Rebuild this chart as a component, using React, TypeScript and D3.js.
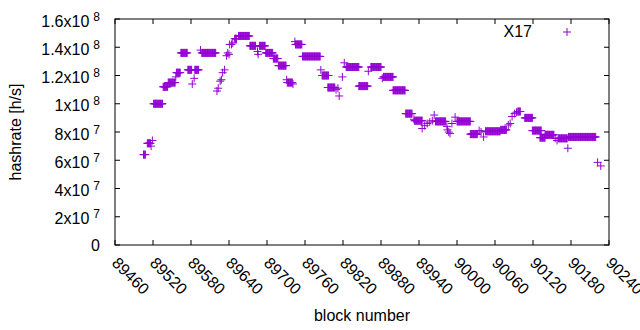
import React from "react";
import * as d3 from "d3";

// [startBlock, endBlock, hashrate in MH/s]
const runs: [number, number, number][] = [
  [89505, 89508, 64], [89511, 89516, 72], [89517, 89517, 70], [89519, 89519, 74],
  [89521, 89535, 100], [89536, 89543, 112], [89544, 89555, 115], [89556, 89556, 119],
  [89557, 89563, 122], [89564, 89574, 136], [89575, 89581, 124], [89582, 89582, 114],
  [89585, 89585, 118], [89586, 89592, 124], [89595, 89595, 138], [89597, 89619, 136],
  [89621, 89621, 109], [89623, 89623, 111], [89626, 89626, 116], [89628, 89628, 117],
  [89630, 89630, 122], [89633, 89633, 124], [89636, 89636, 134], [89638, 89638, 136],
  [89640, 89640, 135], [89641, 89641, 142], [89644, 89644, 142], [89646, 89646, 143],
  [89649, 89652, 146], [89655, 89672, 148], [89673, 89682, 141], [89685, 89685, 137],
  [89686, 89686, 135], [89688, 89697, 141], [89698, 89709, 136], [89710, 89717, 132],
  [89718, 89730, 127], [89731, 89731, 117], [89732, 89740, 115], [89741, 89741, 114],
  [89744, 89744, 144], [89745, 89755, 142], [89756, 89784, 133.5], [89785, 89785, 124],
  [89787, 89797, 120], [89796, 89807, 111.5], [89809, 89809, 110], [89812, 89812, 111],
  [89814, 89814, 105.5], [89819, 89819, 119], [89822, 89822, 129], [89825, 89845, 126],
  [89845, 89859, 112.5], [89860, 89860, 123], [89864, 89880, 126], [89882, 89882, 118],
  [89884, 89899, 119], [89899, 89918, 109.5], [89919, 89929, 93], [89932, 89932, 89],
  [89933, 89945, 88], [89945, 89945, 82.5], [89949, 89949, 84.5], [89953, 89953, 86],
  [89957, 89957, 87], [89961, 89961, 88], [89964, 89964, 92], [89966, 89982, 87.5],
  [89984, 89984, 84], [89985, 89985, 81.5], [89987, 89987, 80], [89989, 89989, 79],
  [89992, 89992, 86], [89997, 89997, 90.5], [90000, 90021, 87.5], [90021, 90032, 78.5],
  [90035, 90035, 81], [90038, 90038, 80], [90042, 90042, 76.5], [90045, 90068, 80.5],
  [90069, 90078, 81.5], [90081, 90081, 85], [90084, 90084, 86], [90087, 90087, 91],
  [90091, 90091, 93], [90094, 90094, 94], [90096, 90100, 94.5], [90107, 90119, 90],
  [90119, 90133, 81], [90131, 90139, 76], [90139, 90153, 78], [90155, 90155, 75.5],
  [90158, 90158, 74], [90160, 90174, 75.5], [90175, 90175, 68.5], [90176, 90219, 76.5],
  [90222, 90222, 58.5], [90227, 90227, 56],
];

const xTickValues = [89460, 89520, 89580, 89640, 89700, 89760, 89820, 89880, 89940, 90000, 90060, 90120, 90180, 90240];
const yTickValues = [0, 2e7, 4e7, 6e7, 8e7, 1e8, 1.2e8, 1.4e8, 1.6e8];
const yTickMantissa = ["0", "2x10", "4x10", "6x10", "8x10", "1x10", "1.2x10", "1.4x10", "1.6x10"];
const yTickExponent = ["", "7", "7", "7", "7", "8", "8", "8", "8"];
const seriesName = "X17";

const W = 640, H = 330;
const L = 115, R = 609, T = 19, B = 245;
const COLOR = "#9400D3";
const FONT = "'Liberation Sans', Arial, sans-serif";

export default function App() {
  const x = d3.scaleLinear().domain([89460, 90240]).range([L, R]);
  const y = d3.scaleLinear().domain([0, 1.6e8]).range([B, T]);
  const points = runs.flatMap(([s, e, v]) => d3.range(s, e + 1).map((b) => ({ b, v: v * 1e6 })));
  const h = 4;
  const cross = (cx: number, cy: number) => `M${cx - h},${cy}H${cx + h}M${cx},${cy - h}V${cy + h}`;
  const path = points.map((p) => cross(x(p.b), y(p.v))).join("");
  const tl = 5;

  return (
    <svg width={W} height={H} style={{ position: "absolute", left: 0, top: 0, background: "#fff" }} fontFamily={FONT}>
      <rect x={0} y={0} width={W} height={H} fill="#fff" />
      {/* ticks */}
      <g stroke="#000" strokeWidth={1}>
        {xTickValues.map((t) => (
          <g key={"xt" + t}>
            <line x1={x(t)} x2={x(t)} y1={B} y2={B - tl} />
            <line x1={x(t)} x2={x(t)} y1={T} y2={T + tl} />
          </g>
        ))}
        {yTickValues.map((t) => (
          <g key={"yt" + t}>
            <line x1={L} x2={L + tl} y1={y(t)} y2={y(t)} />
            <line x1={R} x2={R - tl} y1={y(t)} y2={y(t)} />
          </g>
        ))}
      </g>
      {/* data */}
      <path d={path} stroke={COLOR} strokeWidth={1} fill="none" />
      {/* frame */}
      <rect x={L} y={T} width={R - L} height={B - T} fill="none" stroke="#000" strokeWidth={1} />
      {/* y tick labels */}
      {yTickValues.map((t, i) => (
        <text key={"yl" + t} x={100} y={y(t) + (yTickExponent[i] ? 7.5 : 6)} textAnchor="end" fontSize={16} fill="#000">
          {yTickMantissa[i]}
          {yTickExponent[i] ? (
            <tspan dx={4} dy={-6} fontSize={12}>{yTickExponent[i]}</tspan>
          ) : null}
        </text>
      ))}
      {/* x tick labels */}
      {xTickValues.map((t) => (
        <text key={"xl" + t} transform={`translate(${x(t) - 4},${B + 19}) rotate(45)`} fontSize={16} fill="#000">
          {t}
        </text>
      ))}
      {/* axis labels */}
      <text x={(L + R) / 2} y={321} textAnchor="middle" fontSize={16} fill="#000">block number</text>
      <text transform={`translate(21,${(T + B) / 2}) rotate(-90)`} textAnchor="middle" fontSize={16} fill="#000">hashrate [h/s]</text>
      {/* legend */}
      <text x={532} y={37} textAnchor="end" fontSize={16} fill="#000">{seriesName}</text>
      <path d={cross(567, 32)} stroke={COLOR} strokeWidth={1} fill="none" />
    </svg>
  );
}
